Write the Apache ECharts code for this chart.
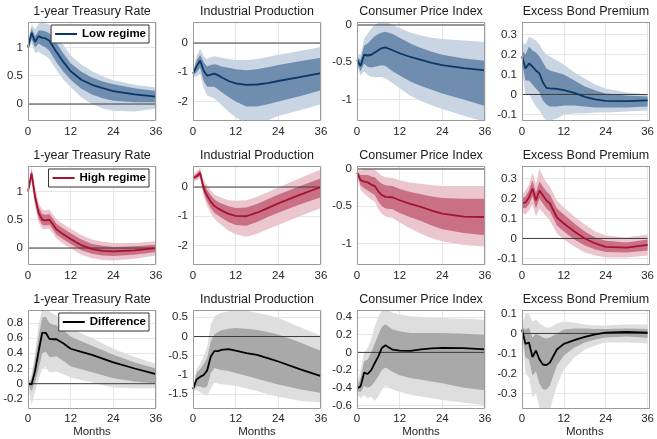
<!DOCTYPE html>
<html>
<head>
<meta charset="utf-8">
<script src="https://cdn.jsdelivr.net/npm/echarts@6/dist/echarts.min.js"></script>
<style>
  html, body { margin: 0; padding: 0; background: #fff; }
  #chart { width: 657px; height: 439px; }
</style>
</head>
<body>
<div id="chart"></div>
<script>
// Horizon (months) at which responses are recorded
const months = [0, 1, 2, 3, 4, 5, 6, 7, 8, 10, 12, 15, 18, 21, 24, 30, 36];

const panelTitles = ['1-year Treasury Rate', 'Industrial Production', 'Consumer Price Index', 'Excess Bond Premium'];
const regimeNames = ['Low regime', 'High regime', 'Difference'];
const xTicks = [0, 12, 24, 36];

// y tick labels per variable / row
const ticksRate = [0, 0.5, 1];
const ticksIP = [-2, -1, 0];
const ticksCPI = [-1, -0.5, 0];
const ticksEBP = [-0.1, 0, 0.1, 0.2, 0.3];
const ticksDiffRate = [-0.2, 0, 0.2, 0.4, 0.6, 0.8];
const ticksDiffIP = [-1.5, -1, -0.5, 0, 0.5];
const ticksDiffCPI = [-0.6, -0.4, -0.2, 0, 0.2, 0.4];
const ticksDiffEBP = [-0.3, -0.2, -0.1, 0, 0.1];

// ---- Low regime ----
const lowRateMean = [1.0, 1.26, 1.1, 1.2, 1.17, 1.16, 1.12, 1.02, 0.92, 0.74, 0.58, 0.43, 0.34, 0.28, 0.23, 0.17, 0.13];
const lowRateLo68 = [0.97, 1.15, 1.0, 1.07, 1.03, 1.0, 0.94, 0.84, 0.74, 0.57, 0.43, 0.27, 0.17, 0.1, 0.06, 0.03, 0.03];
const lowRateHi68 = [1.03, 1.34, 1.2, 1.3, 1.3, 1.28, 1.25, 1.17, 1.08, 0.89, 0.72, 0.57, 0.47, 0.4, 0.35, 0.28, 0.23];
const lowRateLo90 = [0.93, 1.08, 0.9, 0.93, 0.88, 0.85, 0.79, 0.7, 0.6, 0.43, 0.3, 0.12, 0.0, -0.08, -0.12, -0.13, -0.08];
const lowRateHi90 = [1.07, 1.4, 1.32, 1.42, 1.45, 1.43, 1.4, 1.32, 1.22, 1.04, 0.86, 0.7, 0.58, 0.49, 0.42, 0.34, 0.29];

const lowIPMean = [-1.05, -0.8, -0.6, -0.95, -1.12, -1.08, -1.05, -1.1, -1.17, -1.3, -1.38, -1.43, -1.42, -1.37, -1.3, -1.17, -1.03];
const lowIPLo68 = [-1.12, -1.0, -0.85, -1.3, -1.5, -1.5, -1.5, -1.58, -1.68, -1.85, -2.0, -2.17, -2.17, -2.1, -2.0, -1.82, -1.62];
const lowIPHi68 = [-0.98, -0.6, -0.4, -0.65, -0.8, -0.75, -0.73, -0.75, -0.8, -0.85, -0.9, -0.93, -0.9, -0.83, -0.75, -0.62, -0.5];
const lowIPLo90 = [-1.18, -1.15, -1.05, -1.55, -1.8, -1.85, -1.9, -2.0, -2.12, -2.35, -2.55, -2.75, -2.75, -2.65, -2.5, -2.3, -2.1];
const lowIPHi90 = [-0.92, -0.45, -0.2, -0.45, -0.55, -0.48, -0.45, -0.47, -0.5, -0.55, -0.58, -0.58, -0.55, -0.48, -0.4, -0.27, -0.14];

const lowCPIMean = [-0.47, -0.55, -0.4, -0.41, -0.4, -0.37, -0.34, -0.31, -0.3, -0.34, -0.38, -0.43, -0.47, -0.51, -0.54, -0.58, -0.61];
const lowCPILo68 = [-0.51, -0.62, -0.52, -0.56, -0.57, -0.56, -0.55, -0.54, -0.55, -0.62, -0.68, -0.76, -0.82, -0.87, -0.92, -1.0, -1.09];
const lowCPIHi68 = [-0.43, -0.47, -0.28, -0.25, -0.2, -0.15, -0.12, -0.1, -0.09, -0.12, -0.17, -0.25, -0.31, -0.36, -0.4, -0.45, -0.48];
const lowCPILo90 = [-0.55, -0.68, -0.62, -0.67, -0.7, -0.7, -0.7, -0.7, -0.72, -0.78, -0.85, -0.95, -1.02, -1.08, -1.13, -1.22, -1.3];
const lowCPIHi90 = [-0.39, -0.4, -0.18, -0.12, -0.05, 0.0, 0.03, 0.05, 0.05, 0.0, -0.04, -0.1, -0.14, -0.17, -0.19, -0.21, -0.23];

const lowEBPMean = [0.19, 0.13, 0.155, 0.14, 0.12, 0.105, 0.06, 0.033, 0.03, 0.028, 0.022, 0.008, -0.012, -0.025, -0.032, -0.033, -0.03];
const lowEBPLo68 = [0.16, 0.07, 0.07, 0.05, 0.03, 0.01, -0.03, -0.05, -0.06, -0.06, -0.055, -0.055, -0.06, -0.065, -0.065, -0.065, -0.06];
const lowEBPHi68 = [0.22, 0.2, 0.24, 0.22, 0.21, 0.19, 0.16, 0.13, 0.12, 0.11, 0.1, 0.07, 0.04, 0.02, 0.005, -0.005, -0.01];
const lowEBPLo90 = [0.12, 0.0, 0.0, -0.03, -0.06, -0.08, -0.11, -0.13, -0.13, -0.12, -0.1, -0.095, -0.095, -0.09, -0.09, -0.085, -0.08];
const lowEBPHi90 = [0.26, 0.25, 0.29, 0.28, 0.27, 0.25, 0.22, 0.2, 0.19, 0.17, 0.15, 0.11, 0.08, 0.05, 0.03, 0.01, 0.0];

// ---- High regime ----
const highRateMean = [1.0, 1.32, 0.9, 0.62, 0.5, 0.49, 0.5, 0.42, 0.33, 0.24, 0.16, 0.05, -0.02, -0.05, -0.06, -0.04, 0.0];
const highRateLo68 = [0.98, 1.24, 0.8, 0.52, 0.41, 0.4, 0.41, 0.33, 0.24, 0.15, 0.07, -0.04, -0.1, -0.13, -0.14, -0.12, -0.07];
const highRateHi68 = [1.02, 1.38, 1.0, 0.72, 0.6, 0.59, 0.6, 0.52, 0.43, 0.34, 0.26, 0.15, 0.07, 0.04, 0.02, 0.03, 0.06];
const highRateLo90 = [0.96, 1.18, 0.72, 0.45, 0.34, 0.33, 0.34, 0.26, 0.17, 0.07, -0.01, -0.12, -0.18, -0.21, -0.22, -0.19, -0.13];
const highRateHi90 = [1.04, 1.44, 1.08, 0.8, 0.68, 0.67, 0.68, 0.6, 0.51, 0.42, 0.34, 0.23, 0.15, 0.11, 0.09, 0.09, 0.12];

const highIPMean = [0.31, 0.37, 0.48, -0.05, -0.3, -0.5, -0.65, -0.73, -0.8, -0.92, -0.99, -1.0, -0.88, -0.72, -0.56, -0.27, 0.0];
const highIPLo68 = [0.25, 0.29, 0.38, -0.2, -0.5, -0.72, -0.88, -0.97, -1.05, -1.2, -1.3, -1.33, -1.2, -1.03, -0.88, -0.6, -0.35];
const highIPHi68 = [0.37, 0.45, 0.58, 0.1, -0.1, -0.28, -0.42, -0.5, -0.56, -0.66, -0.72, -0.7, -0.58, -0.42, -0.26, 0.03, 0.3];
const highIPLo90 = [0.2, 0.22, 0.3, -0.32, -0.65, -0.9, -1.08, -1.2, -1.3, -1.5, -1.62, -1.7, -1.6, -1.45, -1.3, -1.0, -0.72];
const highIPHi90 = [0.42, 0.52, 0.66, 0.22, 0.05, -0.12, -0.25, -0.32, -0.37, -0.45, -0.47, -0.45, -0.33, -0.18, -0.02, 0.3, 0.6];

const highCPIMean = [-0.05, -0.15, -0.17, -0.18, -0.21, -0.23, -0.3, -0.35, -0.375, -0.38, -0.42, -0.47, -0.51, -0.56, -0.6, -0.64, -0.645];
const highCPILo68 = [-0.07, -0.22, -0.26, -0.29, -0.32, -0.35, -0.44, -0.5, -0.53, -0.54, -0.59, -0.65, -0.7, -0.76, -0.81, -0.86, -0.89];
const highCPIHi68 = [-0.03, -0.08, -0.08, -0.08, -0.1, -0.11, -0.16, -0.2, -0.22, -0.23, -0.27, -0.31, -0.34, -0.37, -0.39, -0.4, -0.4];
const highCPILo90 = [-0.09, -0.28, -0.33, -0.37, -0.41, -0.44, -0.54, -0.6, -0.64, -0.66, -0.72, -0.8, -0.87, -0.93, -0.97, -1.02, -1.04];
const highCPIHi90 = [-0.01, -0.02, 0.0, 0.0, 0.0, -0.01, -0.05, -0.09, -0.11, -0.12, -0.15, -0.18, -0.2, -0.22, -0.23, -0.23, -0.23];

const highEBPMean = [0.178, 0.18, 0.205, 0.25, 0.19, 0.24, 0.215, 0.19, 0.175, 0.105, 0.075, 0.035, 0.0, -0.025, -0.042, -0.046, -0.032];
const highEBPLo68 = [0.155, 0.15, 0.17, 0.21, 0.15, 0.2, 0.175, 0.15, 0.135, 0.065, 0.035, -0.005, -0.035, -0.055, -0.068, -0.07, -0.06];
const highEBPHi68 = [0.2, 0.21, 0.24, 0.29, 0.23, 0.285, 0.26, 0.235, 0.22, 0.15, 0.12, 0.075, 0.035, 0.005, -0.012, -0.02, -0.005];
const highEBPLo90 = [0.13, 0.12, 0.14, 0.17, 0.11, 0.15, 0.13, 0.11, 0.09, 0.025, -0.005, -0.04, -0.07, -0.085, -0.095, -0.095, -0.085];
const highEBPHi90 = [0.22, 0.24, 0.27, 0.33, 0.27, 0.35, 0.31, 0.28, 0.26, 0.19, 0.155, 0.11, 0.07, 0.035, 0.015, 0.005, 0.02];

// ---- Difference (high minus low) ----
const diffRateMean = [0.0, -0.01, 0.17, 0.43, 0.67, 0.67, 0.59, 0.585, 0.585, 0.53, 0.46, 0.42, 0.38, 0.33, 0.28, 0.2, 0.125];
const diffRateLo68 = [-0.01, -0.1, 0.02, 0.2, 0.4, 0.42, 0.35, 0.35, 0.36, 0.3, 0.23, 0.19, 0.15, 0.11, 0.07, 0.03, 0.0];
const diffRateHi68 = [0.01, 0.06, 0.32, 0.62, 0.87, 0.88, 0.8, 0.78, 0.77, 0.7, 0.62, 0.56, 0.5, 0.44, 0.38, 0.28, 0.2];
const diffRateLo90 = [-0.02, -0.28, -0.1, 0.06, 0.2, 0.22, 0.15, 0.15, 0.16, 0.12, 0.08, 0.05, 0.02, -0.02, -0.05, -0.06, -0.06];
const diffRateHi90 = [0.02, 0.12, 0.42, 0.78, 0.98, 1.0, 0.95, 0.92, 0.9, 0.82, 0.74, 0.66, 0.6, 0.53, 0.46, 0.35, 0.26];

const diffIPMean = [-1.37, -1.12, -1.05, -1.0, -0.88, -0.52, -0.38, -0.38, -0.35, -0.33, -0.37, -0.43, -0.48, -0.56, -0.65, -0.85, -1.03];
const diffIPLo68 = [-1.39, -1.3, -1.3, -1.33, -1.3, -0.95, -0.82, -0.85, -0.87, -0.9, -0.95, -1.02, -1.1, -1.18, -1.25, -1.37, -1.47];
const diffIPHi68 = [-1.35, -0.95, -0.85, -0.72, -0.55, -0.12, 0.05, 0.12, 0.16, 0.2, 0.22, 0.2, 0.17, 0.12, 0.05, -0.15, -0.38];
const diffIPLo90 = [-1.41, -1.4, -1.45, -1.5, -1.55, -1.35, -1.2, -1.22, -1.24, -1.26, -1.28, -1.35, -1.42, -1.5, -1.57, -1.67, -1.72];
const diffIPHi90 = [-1.33, -0.85, -0.7, -0.52, -0.25, 0.3, 0.52, 0.58, 0.62, 0.66, 0.68, 0.67, 0.62, 0.56, 0.48, 0.25, 0.02];

const diffCPIMean = [-0.41, -0.385, -0.23, -0.245, -0.2, -0.12, -0.045, 0.05, 0.08, 0.03, 0.02, 0.018, 0.035, 0.045, 0.05, 0.048, 0.035];
const diffCPILo68 = [-0.44, -0.45, -0.38, -0.4, -0.38, -0.33, -0.27, -0.2, -0.17, -0.22, -0.26, -0.29, -0.31, -0.33, -0.35, -0.4, -0.43];
const diffCPIHi68 = [-0.38, -0.3, -0.1, -0.08, 0.0, 0.1, 0.2, 0.29, 0.32, 0.26, 0.24, 0.22, 0.22, 0.22, 0.22, 0.21, 0.2];
const diffCPILo90 = [-0.47, -0.52, -0.48, -0.52, -0.5, -0.55, -0.5, -0.42, -0.38, -0.42, -0.45, -0.48, -0.5, -0.52, -0.54, -0.57, -0.6];
const diffCPIHi90 = [-0.35, -0.2, 0.0, 0.05, 0.15, 0.3, 0.4, 0.48, 0.5, 0.45, 0.43, 0.41, 0.4, 0.39, 0.39, 0.38, 0.37];

const diffEBPMean = [0.02, -0.052, -0.045, -0.118, -0.085, -0.13, -0.155, -0.158, -0.145, -0.08, -0.052, -0.033, -0.017, -0.005, 0.004, 0.008, 0.004];
const diffEBPLo68 = [0.01, -0.12, -0.13, -0.21, -0.19, -0.25, -0.28, -0.28, -0.26, -0.16, -0.11, -0.07, -0.045, -0.03, -0.02, -0.015, -0.022];
const diffEBPHi68 = [0.03, 0.02, 0.03, -0.02, 0.0, -0.01, -0.02, -0.025, -0.02, 0.0, 0.02, 0.025, 0.025, 0.022, 0.022, 0.025, 0.022];
const diffEBPLo90 = [0.0, -0.2, -0.22, -0.32, -0.3, -0.37, -0.4, -0.4, -0.38, -0.26, -0.18, -0.12, -0.08, -0.06, -0.045, -0.045, -0.05];
const diffEBPHi90 = [0.04, 0.1, 0.1, 0.06, 0.07, 0.05, 0.04, 0.03, 0.03, 0.05, 0.06, 0.055, 0.045, 0.04, 0.04, 0.045, 0.045];

// ---- styling & layout ----
const FONT = '"Liberation Sans", Arial, Helvetica, sans-serif';
const rowColors = [
  { line: '#0b3766', inner: '#6f8dae', outer: '#c9d5e2' },
  { line: '#a51232', inner: '#c97085', outer: '#ecc6cf' },
  { line: '#000000', inner: '#a9a9a9', outer: '#dedede' }
];
const colLeft = [28, 193, 357, 522];
const rowTop = [22, 166, 310];
const plotW = 128, plotH = 99;

const panels = [
  { row: 0, col: 0, mean: lowRateMean, lo68: lowRateLo68, hi68: lowRateHi68, lo90: lowRateLo90, hi90: lowRateHi90, ymin: -0.3, ymax: 1.45, ticks: ticksRate },
  { row: 0, col: 1, mean: lowIPMean, lo68: lowIPLo68, hi68: lowIPHi68, lo90: lowIPLo90, hi90: lowIPHi90, ymin: -2.67, ymax: 0.72, ticks: ticksIP },
  { row: 0, col: 2, mean: lowCPIMean, lo68: lowCPILo68, hi68: lowCPIHi68, lo90: lowCPILo90, hi90: lowCPIHi90, ymin: -1.29, ymax: 0.04, ticks: ticksCPI },
  { row: 0, col: 3, mean: lowEBPMean, lo68: lowEBPLo68, hi68: lowEBPHi68, lo90: lowEBPLo90, hi90: lowEBPHi90, ymin: -0.133, ymax: 0.363, ticks: ticksEBP },
  { row: 1, col: 0, mean: highRateMean, lo68: highRateLo68, hi68: highRateHi68, lo90: highRateLo90, hi90: highRateHi90, ymin: -0.3, ymax: 1.45, ticks: ticksRate },
  { row: 1, col: 1, mean: highIPMean, lo68: highIPLo68, hi68: highIPHi68, lo90: highIPLo90, hi90: highIPHi90, ymin: -2.67, ymax: 0.72, ticks: ticksIP },
  { row: 1, col: 2, mean: highCPIMean, lo68: highCPILo68, hi68: highCPIHi68, lo90: highCPILo90, hi90: highCPIHi90, ymin: -1.29, ymax: 0.04, ticks: ticksCPI },
  { row: 1, col: 3, mean: highEBPMean, lo68: highEBPLo68, hi68: highEBPHi68, lo90: highEBPLo90, hi90: highEBPHi90, ymin: -0.133, ymax: 0.363, ticks: ticksEBP },
  { row: 2, col: 0, mean: diffRateMean, lo68: diffRateLo68, hi68: diffRateHi68, lo90: diffRateLo90, hi90: diffRateHi90, ymin: -0.32, ymax: 0.97, ticks: ticksDiffRate },
  { row: 2, col: 1, mean: diffIPMean, lo68: diffIPLo68, hi68: diffIPHi68, lo90: diffIPLo90, hi90: diffIPHi90, ymin: -1.86, ymax: 0.69, ticks: ticksDiffIP },
  { row: 2, col: 2, mean: diffCPIMean, lo68: diffCPILo68, hi68: diffCPIHi68, lo90: diffCPILo90, hi90: diffCPIHi90, ymin: -0.63, ymax: 0.48, ticks: ticksDiffCPI },
  { row: 2, col: 3, mean: diffEBPMean, lo68: diffEBPLo68, hi68: diffEBPHi68, lo90: diffEBPLo90, hi90: diffEBPHi90, ymin: -0.372, ymax: 0.117, ticks: ticksDiffEBP }
];

// Filled confidence band drawn as one polygon through the axis scales
function bandSeries(gi, lo, hi, color) {
  return {
    type: 'custom',
    xAxisIndex: gi,
    yAxisIndex: gi,
    silent: true,
    clip: true,
    data: months.map((m, i) => [m, lo[i], hi[i]]),
    encode: { x: 0, y: [1, 2] },
    renderItem(params, api) {
      if (params.dataIndex !== 0) return null;
      const pts = [];
      for (let i = 0; i < months.length; i++) pts.push(api.coord([months[i], hi[i]]));
      for (let i = months.length - 1; i >= 0; i--) pts.push(api.coord([months[i], lo[i]]));
      return { type: 'polygon', shape: { points: pts }, style: { fill: color, stroke: null } };
    }
  };
}

const grids = [], xAxes = [], yAxes = [], series = [], graphics = [], legends = [];

panels.forEach((p, gi) => {
  const L = colLeft[p.col], T = rowTop[p.row];
  const colors = rowColors[p.row];
  grids.push({ left: L, top: T, width: plotW, height: plotH, containLabel: false });
  xAxes.push({
    type: 'value', gridIndex: gi, min: 0, max: 36, interval: 12,
    axisLine: { show: false }, axisTick: { show: false },
    axisLabel: { fontSize: 11.5, color: '#262626', margin: 5, fontFamily: FONT },
    splitLine: { show: true, lineStyle: { color: '#e6e6e6', width: 1 } },
    name: p.row === 2 ? 'Months' : '',
    nameLocation: 'middle', nameGap: 18,
    nameTextStyle: { fontSize: 11.5, color: '#262626', fontFamily: FONT }
  });
  yAxes.push({
    type: 'value', gridIndex: gi, min: p.ymin, max: p.ymax,
    axisLine: { show: false },
    axisTick: { show: false, customValues: p.ticks },
    axisLabel: { fontSize: 11.5, color: '#262626', margin: 5, fontFamily: FONT, customValues: p.ticks },
    splitLine: { show: true, lineStyle: { color: '#e6e6e6', width: 1 } }
  });
  series.push(bandSeries(gi, p.lo90, p.hi90, colors.outer));
  series.push(bandSeries(gi, p.lo68, p.hi68, colors.inner));
  series.push({
    type: 'line', xAxisIndex: gi, yAxisIndex: gi, silent: true, symbol: 'none',
    data: [[0, 0], [36, 0]], lineStyle: { color: '#3c3c3c', width: 1 }
  });
  const lineSeries = {
    type: 'line', xAxisIndex: gi, yAxisIndex: gi, silent: true, symbol: 'none', clip: true,
    data: months.map((m, i) => [m, p.mean[i]]),
    lineStyle: { color: colors.line, width: 1.8 }, itemStyle: { color: colors.line }
  };
  if (p.col === 0) lineSeries.name = regimeNames[p.row];
  series.push(lineSeries);

  // panel title
  graphics.push({
    type: 'text', x: L + plotW / 2, y: T - 10, silent: true,
    style: { text: panelTitles[p.col], font: '12.5px ' + FONT, fill: '#1a1a1a', align: 'center', verticalAlign: 'middle' }
  });
  // axes box
  graphics.push({
    type: 'rect', z: 50, silent: true,
    shape: { x: L + 0.5, y: T + 0.5, width: plotW - 1, height: plotH - 1 },
    style: { fill: null, stroke: '#9a9a9a', lineWidth: 1 }
  });

  if (p.col === 0) {
    legends.push({
      data: [{ name: regimeNames[p.row], icon: 'rect' }],
      right: 657 - (L + plotW - 7), top: T + 3,
      orient: 'horizontal', selectedMode: false,
      backgroundColor: '#ffffff', borderColor: '#333333', borderWidth: 1, borderRadius: 0,
      padding: [3, 3, 3, 4], itemWidth: 22, itemHeight: 2, itemGap: 0,
      itemStyle: { color: colors.line, borderWidth: 0 },
      textStyle: { fontSize: 11.5, fontWeight: 'bold', color: '#000', fontFamily: FONT }
    });
  }
});

const chart = echarts.init(document.getElementById('chart'), null, { renderer: 'canvas' });
chart.setOption({
  animation: false,
  backgroundColor: '#ffffff',
  textStyle: { fontFamily: FONT },
  grid: grids,
  xAxis: xAxes,
  yAxis: yAxes,
  legend: legends,
  series: series,
  graphic: { elements: graphics }
});
</script>
</body>
</html>
